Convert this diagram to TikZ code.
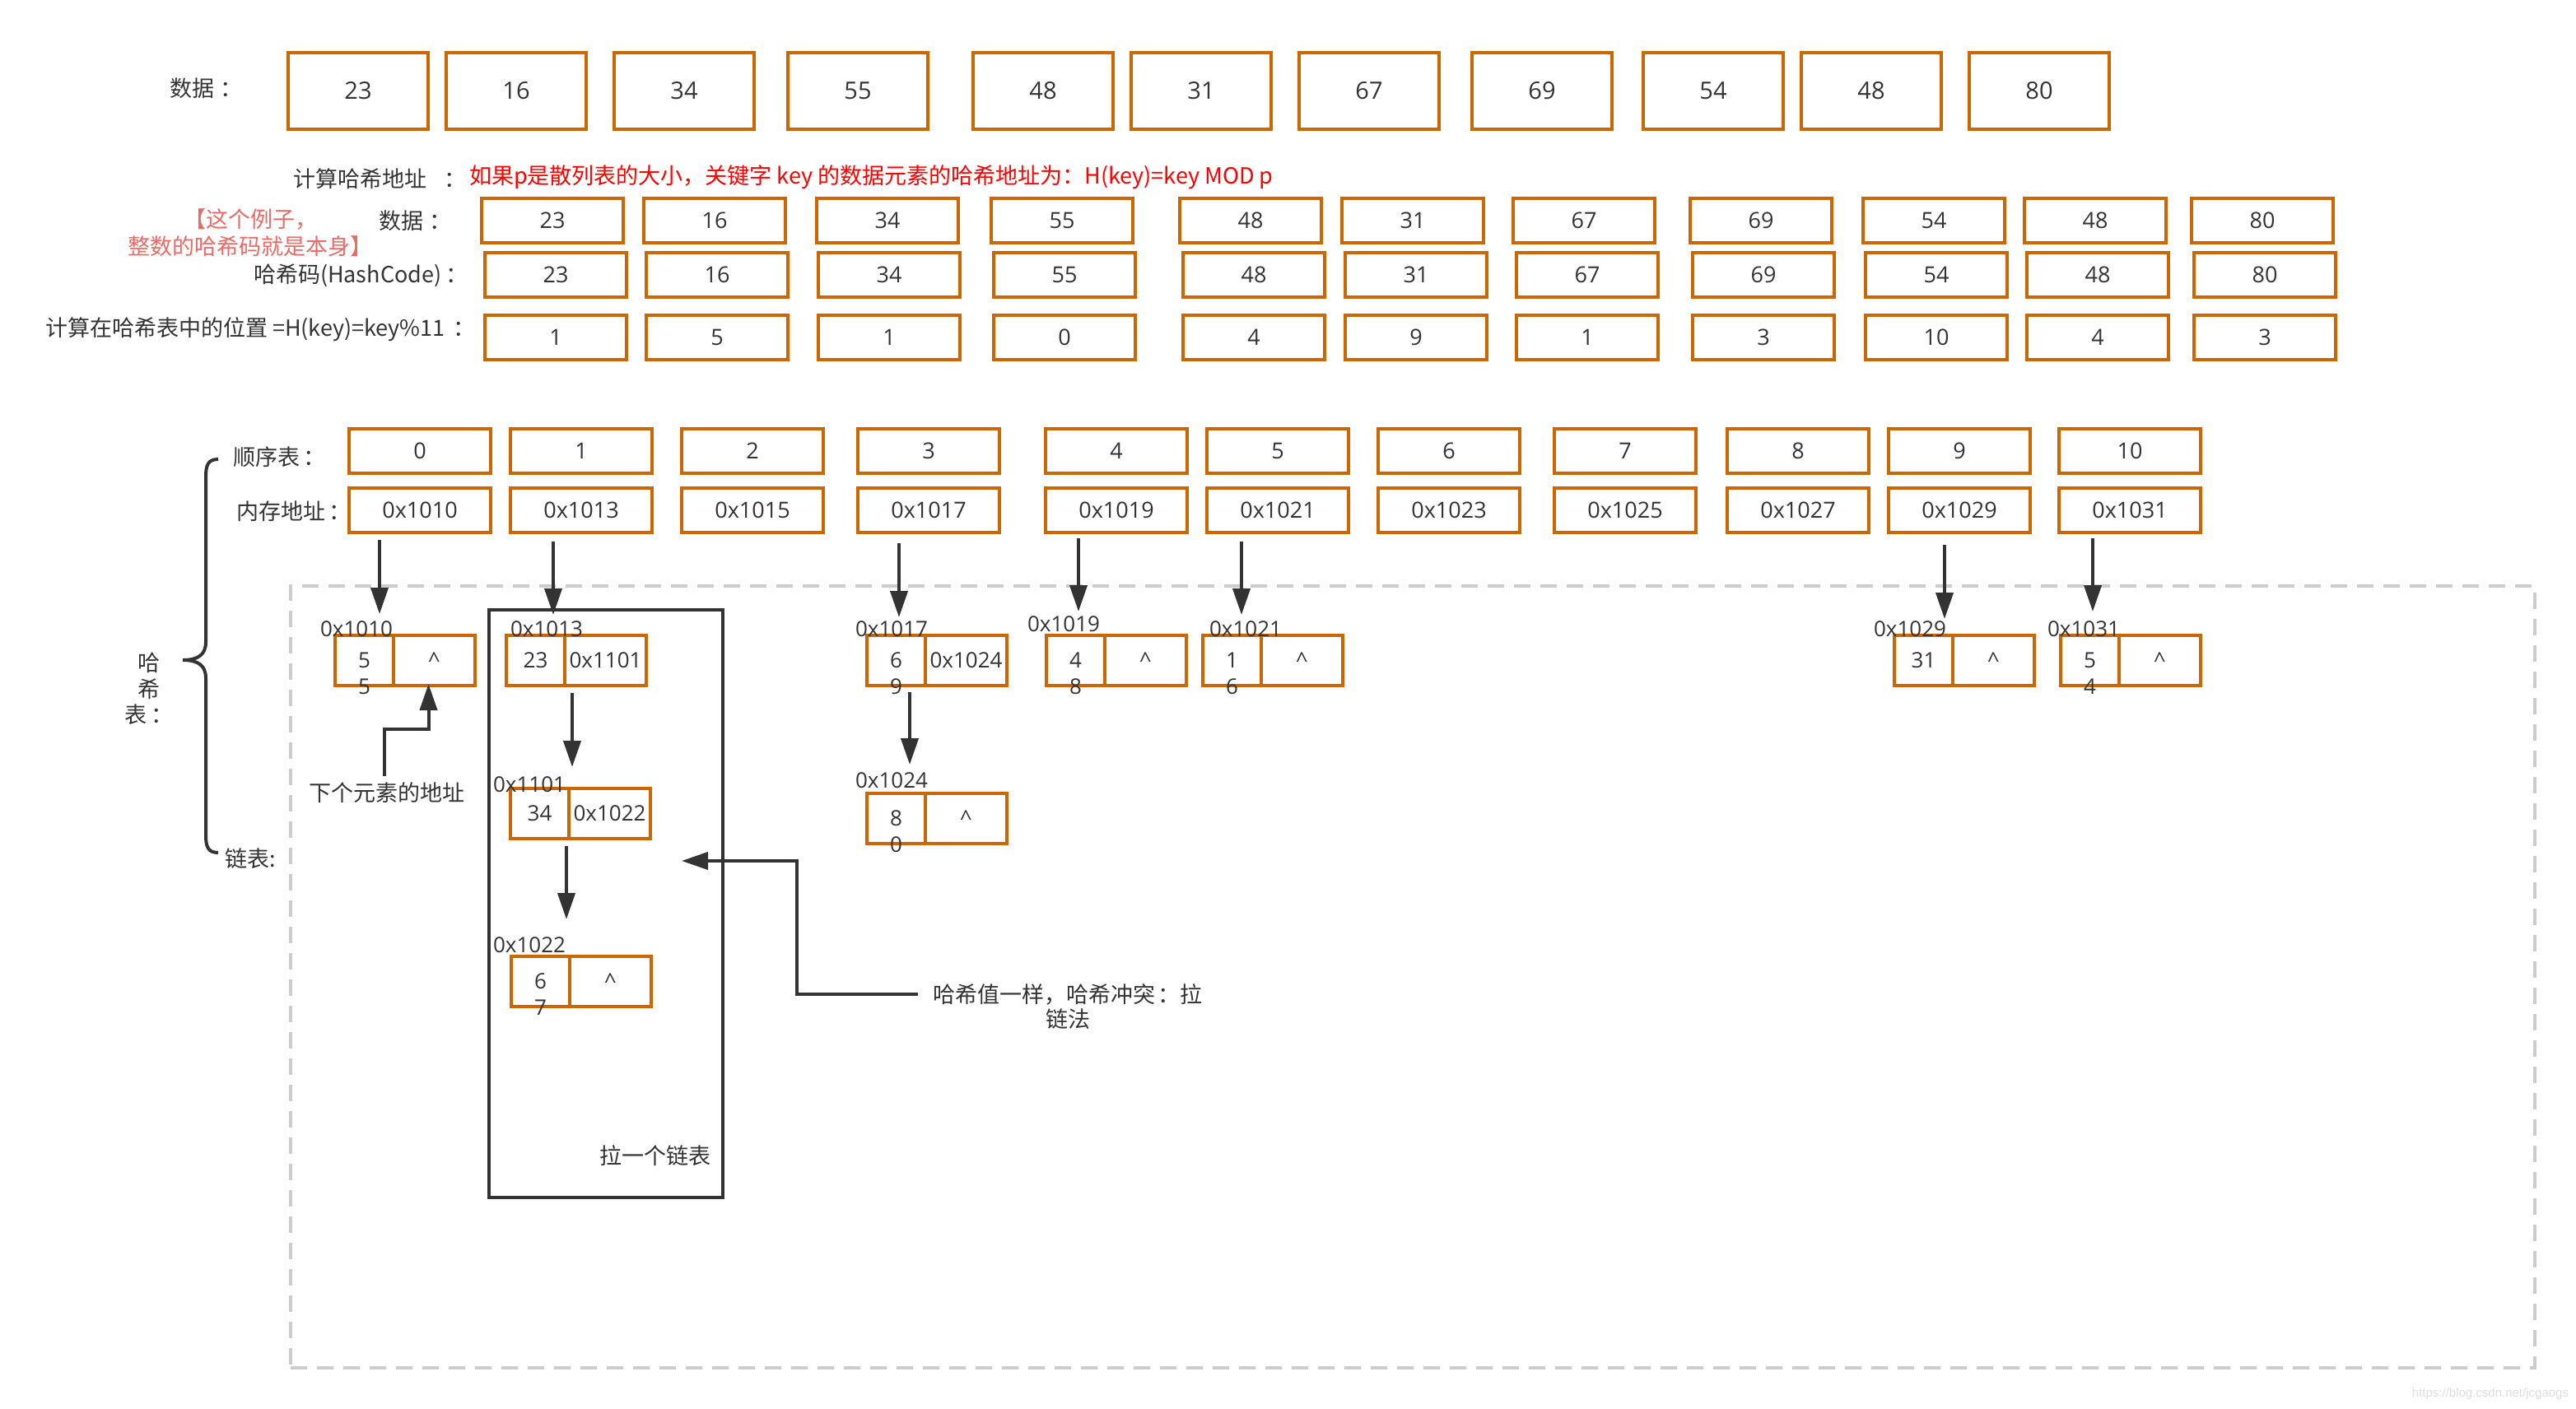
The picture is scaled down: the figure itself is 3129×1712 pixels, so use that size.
\documentclass[tikz,border=0pt]{standalone}
\usepackage{fontspec}
\setmainfont{Noto Sans CJK SC}
\newfontfamily\lat{Open Sans}
\newfontfamily\wmfont{Liberation Sans}
\usetikzlibrary{arrows.meta,calc}
\definecolor{ob}{HTML}{CC6600}
\definecolor{tx}{HTML}{333333}
\definecolor{rd}{HTML}{FF0000}
\definecolor{lr}{HTML}{EA6B66}
\definecolor{dg}{HTML}{CCCCCC}
\definecolor{wm}{HTML}{DDDDDD}
\newcommand{\hcell}[8]{%
  \node[cbox, minimum width=71pt] (#1l) at (#2+35.5,#3+30.5) {};
  \node[cbox, minimum width=99pt] (#1r) at (#2+120.5,#3+30.5) {#5};
  \node[ctext, anchor=north] (#1t) at (#2+35.5,#3+21) {#4};
  \node[ctext] (#1a) at (#6,#7) {#8};
}
\newcommand{\cc}{\hspace{8pt}：}
\begin{document}
\begin{tikzpicture}[x=1pt,y=-1pt,
  every node/.style={text=tx, inner sep=0pt, outer sep=0pt},
  obox/.style={draw=ob, line width=3.4pt, minimum height=54pt, minimum width=172pt, font=\lat\fontsize{27}{32}\selectfont},
  topbox/.style={obox, minimum width=170pt, minimum height=93pt, font=\lat\fontsize{29}{34}\selectfont},
  cbox/.style={draw=ob, line width=3.4pt, minimum height=61pt, font=\lat\fontsize{26}{32}\selectfont},
  ctext/.style={font=\lat\fontsize{26}{32}\selectfont, align=center},
  lbl/.style={font=\fontsize{27}{33}\selectfont},
  arr/.style={draw=tx, line width=4pt, -{Triangle[length=32pt,width=21pt]}},
]
\useasboundingbox (0,0) rectangle (3129,1712);

% dashed hash-table area
\node[draw=dg, line width=3.5pt, dash pattern=on 20pt off 12pt, minimum width=2726pt, minimum height=950pt] (area) at (1716,1187) {};

% top data row
\node[lbl, anchor=west] (lt) at (206,107) {数据\cc};
\foreach \x/\v [count=\i from 0] in {435/23,627/16,831/34,1042/55,1267/48,1459/31,1663/67,1873/69,2081/54,2273/48,2477/80}
  \node[topbox] (d\i) at (\x,110.5) {\v};

% hash address formula
\node[lbl, anchor=west] (lh) at (356,217) {计算哈希地址\hspace{22pt}：};
\node[lbl, anchor=west, text=rd] (rf) at (570,215) {如果p是散列表的大小，关键字 key 的数据元素的哈希地址为：H(key)=key MOD p};
\node[lbl, text=lr, align=center] (note) at (304,283) {【这个例子，\\整数的哈希码就是本身】};
\node[lbl, anchor=west] (le) at (460,268) {数据\cc};
\node[lbl, anchor=west] (lhc) at (308,335) {哈希码(HashCode)\hspace{5pt}：};
\node[lbl, anchor=west] (lp) at (55,400) {计算在哈希表中的位置 =H(key)=key\%11\hspace{10pt}：};

\foreach \x/\v [count=\i from 0] in {671/23,868/16,1078/34,1290/55,1519/48,1716/31,1924/67,2139/69,2349/54,2545/48,2748/80}
  \node[obox] (e\i) at (\x,268) {\v};
\foreach \x/\v [count=\i from 0] in {675/23,871/16,1080/34,1293/55,1523/48,1720/31,1928/67,2142/69,2352/54,2548/48,2751/80}
  \node[obox] (h\i) at (\x,334) {\v};
\foreach \x/\v [count=\i from 0] in {675/1,871/5,1080/1,1293/0,1523/4,1720/9,1928/1,2142/3,2352/10,2548/4,2751/3}
  \node[obox] (p\i) at (\x,410) {\v};

% sequential table
\node[lbl, anchor=west] (ls) at (283,555) {顺序表\hspace{5pt}：};
\node[lbl, anchor=west] (lm) at (287,621) {内存地址\hspace{5pt}：};
\foreach \x/\v [count=\i from 0] in {510/0,706/1,914/2,1128/3,1356/4,1552/5,1760/6,1974/7,2184/8,2380/9,2587/10}
  \node[obox] (s\i) at (\x,548) {\v};
\foreach \x/\v [count=\i from 0] in {510/0x1010,706/0x1013,914/0x1015,1128/0x1017,1356/0x1019,1552/0x1021,1760/0x1023,1974/0x1025,2184/0x1027,2380/0x1029,2587/0x1031}
  \node[obox] (m\i) at (\x,620) {\v};

% brace and side labels
\draw[tx, line width=4pt] (265,558) .. controls (252,558) and (250,566) .. (250,580) -- (250,780)
  .. controls (250,796) and (240,802) .. (222,802) .. controls (240,802) and (250,808) .. (250,824)
  -- (250,1014) .. controls (250,1028) and (252,1036) .. (265,1036);
\node[lbl, align=center, font=\fontsize{27}{31.5}\selectfont] (lhb) at (181,837) {哈\\希\\表\hspace{5pt}：};
\node[lbl, anchor=west] (ll) at (273,1043) {链表:};

% chain box
\node[draw=tx, line width=4pt, minimum width=284pt, minimum height=714pt] (chain) at (736,1098) {};
\node[lbl] (lchain) at (796,1404) {拉一个链表};

% linked list cells
\hcell{c0}{407}{772}{5\\5}{\textasciicircum}{433}{764}{0x1010}
\hcell{c1}{615}{772}{23}{0x1101}{664}{764}{0x1013}
\hcell{c1b}{620}{958}{34}{0x1022}{643}{953}{0x1101}
\hcell{c1c}{621}{1162}{6\\7}{\textasciicircum}{643}{1148}{0x1022}
\hcell{c3}{1053}{772}{6\\9}{0x1024}{1083}{764}{0x1017}
\hcell{c3b}{1053}{964}{8\\0}{\textasciicircum}{1083}{948}{0x1024}
\hcell{c4}{1271}{772}{4\\8}{\textasciicircum}{1292}{758}{0x1019}
\hcell{c5}{1461}{772}{1\\6}{\textasciicircum}{1513}{764}{0x1021}
\hcell{c9}{2301}{772}{31}{\textasciicircum}{2320}{764}{0x1029}
\hcell{c10}{2503}{772}{5\\4}{\textasciicircum}{2531}{764}{0x1031}

% arrows from memory addresses
\draw[arr] ($(m0.south)+(-49,9)$) -- ++(0,90);
\draw[arr] ($(m1.south)+(-34,11)$) -- ++(0,89);
\draw[arr] ($(m3.south)+(-36,13)$) -- ++(0,90);
\draw[arr] ($(m4.south)+(-46,7)$) -- ++(0,89);
\draw[arr] ($(m5.south)+(-44,11)$) -- ++(0,89);
\draw[arr] ($(m9.south)+(-18,15)$) -- ++(0,90);
\draw[arr] ($(m10.south)+(-45,7)$) -- ++(0,89);

% chain arrows
\draw[arr] ($(c1l.south east)+(9,9)$) -- ++(0,90);
\draw[arr] ($(c1bl.south east)+(-3,9)$) -- ++(0,89);
\draw[arr] ($(c3l.south)+(16.5,8)$) -- ++(0,88);

% next address note
\node[lbl] (nx) at (470,963) {下个元素的地址};
\draw[arr] ($(nx.north)+(-3,-8)$) -- ++(0,-57) -| ($(c0r.south)+(-7,-2)$);

% collision note
\node[lbl, align=center, font=\fontsize{27}{30}\selectfont] (coll) at (1297,1223) {哈希值一样，哈希冲突\hspace{3pt}：拉\\链法};
\coordinate (cs) at ($(coll.west)+(-19,-15)$);
\coordinate (ce) at ($(chain.east)+(-50,-52)$);
\draw[arr] (cs) -- ++(-147,0) |- (ce);

% watermark
\node[anchor=east, text=wm, font=\wmfont\fontsize{15}{18}\selectfont] (wmk) at (3120,1694) {https://blog.csdn.net/jcgaogs};
\end{tikzpicture}
\end{document}
